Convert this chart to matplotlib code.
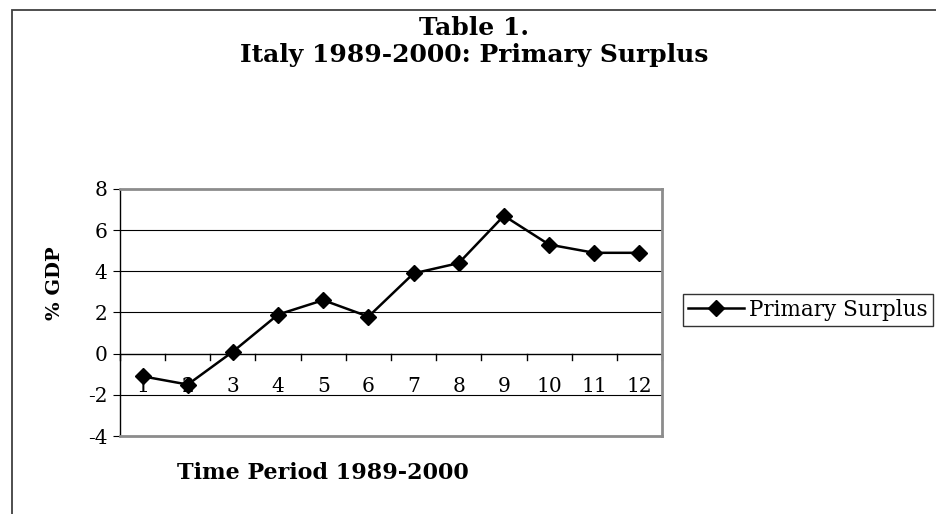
import matplotlib.pyplot as plt
from matplotlib.patches import Rectangle

periods = [1, 2, 3, 4, 5, 6, 7, 8, 9, 10, 11, 12]
surplus = [-1.1, -1.5, 0.1, 1.9, 2.6, 1.8, 3.9, 4.4, 6.7, 5.3, 4.9, 4.9]
y_ticks = [-4, -2, 0, 2, 4, 6, 8]

plt.rcParams['font.family'] = ['DejaVu Serif']
plt.rcParams['axes.unicode_minus'] = False

W, H = 936, 514
fig = plt.figure(figsize=(W / 100, H / 100), dpi=100)

# plot area in pixel terms
left, right, top, bottom = 120, 662, 189, 436
ax = fig.add_axes([left / W, 1 - bottom / H, (right - left) / W, (bottom - top) / H])

# outer chart border (runs off the right and bottom edges)
fig.patches.append(Rectangle((12 / W, -0.1), 1.1, 1 - 10 / H + 0.1,
                             transform=fig.transFigure, fill=False,
                             edgecolor='#404040', linewidth=1.3))

for y in [-2, 2, 4, 6]:
    ax.axhline(y, color='black', linewidth=0.8, zorder=1)

ax.plot(periods, surplus, color='black', linewidth=1.8, marker='D',
        markersize=8, label='Primary Surplus', zorder=3)

ax.set_xlim(0.5, 12.5)
ax.set_ylim(-4, 8)

for side in ['top', 'right', 'bottom']:
    ax.spines[side].set_color('#8c8c8c')
    ax.spines[side].set_linewidth(2)
ax.spines['left'].set_color('black')
ax.spines['left'].set_linewidth(1)

# category axis crossing at zero, ticks between categories
ax.axhline(0, color='black', linewidth=1, zorder=2)
ax.set_xticks([])
for i in range(13):
    ax.plot([i + 0.5, i + 0.5], [0, -0.3], color='black', linewidth=1,
            clip_on=False, zorder=2)
for p in periods:
    ax.text(p, -1.6, str(p), ha='center', va='center', fontsize=14.5, zorder=2)

ax.set_yticks(y_ticks)
ax.tick_params(axis='y', direction='out', length=5, labelsize=14.5, pad=4)

fig.text(474 / W, 1 - 28 / H, 'Table 1.', ha='center', va='center',
         fontsize=18, fontweight='bold')
fig.text(474 / W, 1 - 55 / H, 'Italy 1989-2000: Primary Surplus', ha='center',
         va='center', fontsize=18, fontweight='bold')
fig.text(55 / W, 1 - 283 / H, '% GDP', ha='center', va='center', rotation=90,
         fontsize=14, fontweight='bold')
fig.text(323 / W, 1 - 473 / H, 'Time Period 1989-2000', ha='center',
         va='center', fontsize=16, fontweight='bold')

leg = fig.legend(loc='center left', bbox_to_anchor=(683 / W, 1 - 310 / H),
                 fontsize=15.5, frameon=True, fancybox=False, handlelength=2.6,
                 borderpad=0.25, handletextpad=0.2, borderaxespad=0)
leg.get_frame().set_edgecolor('black')
leg.get_frame().set_linewidth(1)

fig.savefig('out.png', dpi=100)
